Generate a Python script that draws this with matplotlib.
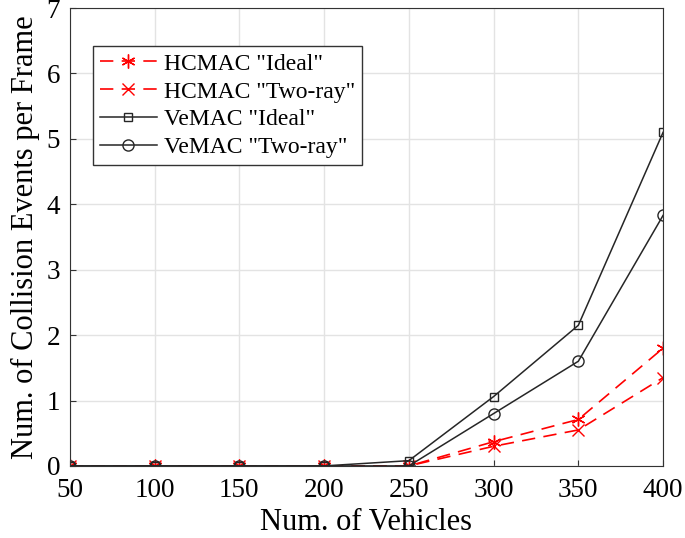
import matplotlib
matplotlib.use("Agg")
import matplotlib.pyplot as plt

vehicles = [50, 100, 150, 200, 250, 300, 350, 400]
hcmac_ideal = [0, 0, 0, 0, 0, 0.37, 0.71, 1.80]
hcmac_tworay = [0, 0, 0, 0, 0, 0.30, 0.55, 1.35]
vemac_ideal = [0, 0, 0, 0, 0.08, 1.06, 2.15, 5.10]
vemac_tworay = [0, 0, 0, 0, 0, 0.80, 1.60, 3.83]

plt.rcParams['font.family'] = ['Liberation Serif', 'DejaVu Serif']

fig = plt.figure(figsize=(6.85, 5.38), dpi=100)
ax = fig.add_axes([0.102, 0.134, 0.866, 0.851])

dash = (0, (8, 5))
ax.plot(vehicles, hcmac_ideal, color='red', linestyle=dash, marker=(6, 2, 0),
        markersize=10, linewidth=1.2, label='HCMAC "Ideal"')
ax.plot(vehicles, hcmac_tworay, color='red', linestyle=dash, marker='x',
        markersize=8, linewidth=1.2, label='HCMAC "Two-ray"')
ax.plot(vehicles, vemac_ideal, color='#262626', linestyle='-', marker='s',
        markersize=6, markerfacecolor='none', linewidth=1.1, label='VeMAC "Ideal"')
ax.plot(vehicles, vemac_tworay, color='#262626', linestyle='-', marker='o',
        markersize=8, markerfacecolor='none', linewidth=1.1, label='VeMAC "Two-ray"')

ax.set_xlim(50, 400)
ax.set_ylim(0, 7)
ax.set_xticks(vehicles)
ax.set_yticks(range(0, 8))
ax.tick_params(direction='in', labelsize=19.5, length=4, color='#333333')
ax.tick_params(axis='x', pad=9)
ax.tick_params(axis='y', pad=7)
ax.grid(True, color='#e3e3e3', linewidth=1)
ax.set_axisbelow(True)
for s in ax.spines.values():
    s.set_color('#333333')

ax.set_xlabel('Num. of Vehicles', fontsize=22, labelpad=3)
ax.set_ylabel('Num. of Collision Events per Frame', fontsize=22, labelpad=5)

leg = ax.legend(loc='upper left', bbox_to_anchor=(0.039, 0.917), fontsize=17,
                fancybox=False, edgecolor='#333333', framealpha=1,
                handlelength=2.4, handletextpad=0.3, borderpad=0.3,
                labelspacing=0.27, borderaxespad=0)
leg.get_frame().set_linewidth(1)

fig.savefig('out.png', dpi=100)
